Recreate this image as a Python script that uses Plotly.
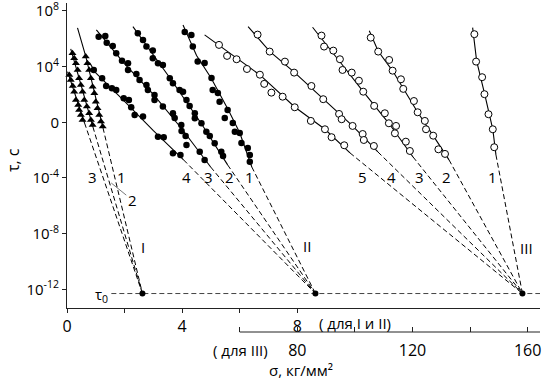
import plotly.graph_objects as go

# ---------------- data (sigma in kg/mm^2, log10 tau in s) ----------------
# Group I (triangles), upper scale
sig_I1 = [0.65, 0.71, 0.77, 0.83, 0.89, 0.95, 1.00, 1.06, 1.12, 1.18, 1.24]
lt_I1 = [4.72, 4.24, 3.76, 3.17, 2.56, 2.09, 1.48, 1.01, 0.53, 0.05, -0.31]
sig_I2 = [0.19, 0.25, 0.31, 0.37, 0.42, 0.48, 0.54, 0.60, 0.69, 0.77, 0.83, 0.89]
lt_I2 = [4.96, 4.60, 4.24, 3.76, 3.17, 2.68, 2.20, 1.61, 1.13, 0.65, 0.17, -0.19]
sig_I3 = [0.08, 0.13, 0.20, 0.25, 0.31, 0.39, 0.42, 0.48, 0.54]
lt_I3 = [3.40, 3.04, 2.60, 2.20, 1.61, 1.25, 0.89, 0.53, 0.17]
fs_I1 = [0.365, 0.60, 0.654, 1.25]
fl_I1 = [6.78, 4.96, 4.72, -0.40]
fs_I2 = [0.13, 0.90]
fl_I2 = [5.27, -0.33]
fs_I3 = [0.02, 0.61]
fl_I3 = [3.64, -0.05]

# Group II (filled circles), upper scale
sig_II1 = [4.09, 4.32, 4.37, 4.54, 4.78, 5.02, 5.06, 5.24, 5.30, 5.58, 5.48, 5.76, 5.83, 6.00, 6.06, 6.28, 6.35, 6.35]
lt_II1 = [6.49, 6.28, 5.44, 4.36, 4.26, 3.19, 2.32, 2.11, 1.48, 0.89, 0.31, -0.05, -0.67, -0.76, -1.48, -1.84, -2.34, -2.83]
sig_II2 = [2.46, 2.64, 2.76, 2.98, 2.98, 3.16, 3.33, 3.57, 3.68, 3.91, 4.03, 4.15, 4.26, 4.44, 4.44, 4.67, 4.84, 4.96, 5.13, 5.36, 5.42]
lt_II2 = [6.40, 5.92, 5.44, 5.15, 4.60, 4.24, 4.12, 3.17, 2.81, 2.32, 2.20, 1.61, 1.18, 0.65, 0.29, -0.07, -0.67, -0.98, -1.50, -2.11, -2.42]
sig_II3 = [1.10, 1.33, 1.38, 1.59, 1.71, 1.91, 2.12, 2.12, 2.41, 2.52, 2.76, 2.81, 3.04, 3.04, 3.33, 3.68, 3.74, 3.97, 3.98, 4.12, 4.15, 4.61, 4.78]
lt_II3 = [6.15, 6.20, 5.72, 5.49, 4.96, 4.43, 4.24, 3.76, 3.47, 3.04, 2.68, 2.32, 1.97, 1.61, 1.13, 0.65, 0.31, -0.19, -0.62, -0.98, -1.63, -2.11, -2.70]
sig_II4 = [0.93, 1.22, 1.36, 1.56, 1.71, 1.97, 2.15, 2.23, 2.35, 2.64, 3.16, 3.36, 3.68, 3.94]
lt_II4 = [3.76, 3.17, 2.61, 2.45, 2.32, 1.73, 1.61, 1.08, 0.53, 0.41, -1.03, -1.07, -2.22, -2.34]
fs_II1 = [4.03, 4.5, 5.0, 5.6, 6.0, 6.42]
fl_II1 = [6.99, 4.8, 3.2, 0.9, -0.75, -3.21]
fs_II2 = [2.29, 3.57, 4.67, 5.58]
fl_II2 = [6.87, 3.2, -0.1, -3.06]
fs_II3 = [1.02, 2.0, 3.0, 4.0, 4.99]
fl_II3 = [6.64, 4.2, 2.0, -0.5, -3.21]
fs_II4 = [0.78, 1.0, 2.0, 3.0, 4.05]
fl_II4 = [4.3, 3.55, 1.5, -0.6, -2.7]

# Group III (open circles), lower scale
sig_III1 = [141.5, 142.1, 144.2, 145.0, 146.4, 147.9, 148.4]
lt_III1 = [6.33, 4.36, 3.24, 2.02, 0.58, -0.50, -1.79]
sig_III2 = [105.5, 108.1, 111.9, 113.1, 116.0, 116.8, 120.5, 121.8, 124.3, 124.7, 127.2, 129.0, 131.3]
lt_III2 = [6.08, 5.08, 4.48, 3.71, 3.09, 2.40, 1.53, 0.72, 0.10, -0.50, -0.96, -1.94, -2.27]
sig_III3 = [88.4, 89.3, 92.5, 94.8, 95.7, 98.9, 101.4, 102.9, 106.7, 110.4, 111.8, 114.3, 113.9, 117.7, 119.1]
lt_III3 = [6.23, 5.44, 5.15, 4.53, 3.76, 3.57, 2.99, 2.20, 1.18, 0.65, -0.07, -0.26, -0.79, -1.39, -2.06]
sig_III4 = [66.2, 70.4, 75.7, 78.9, 84.9, 89.0, 94.5, 95.4, 99.2, 102.7, 103.1, 106.6]
lt_III4 = [6.30, 5.08, 4.36, 3.57, 2.61, 1.66, 0.60, 0.22, -0.26, -0.84, -1.27, -1.70]
sig_III5 = [52.8, 55.6, 58.9, 62.5, 67.0, 68.5, 71.0, 74.9, 79.1, 84.7, 89.6, 91.9, 96.3]
lt_III5 = [5.56, 4.77, 4.53, 3.83, 3.42, 2.76, 2.13, 1.84, 1.08, 0.10, -0.50, -1.07, -1.65]
fs_III1 = [140.9, 142.3, 145.0, 147.9, 149.0]
fl_III1 = [6.8, 4.4, 2.1, -0.5, -2.34]
fs_III2 = [105.0, 108.1, 113.1, 116.8, 121.8, 127.2, 132.7]
fl_III2 = [6.58, 5.1, 3.7, 2.4, 0.72, -0.96, -2.70]
fs_III3 = [85.3, 92.5, 96.5, 102.9, 111.8, 120.2]
fl_III3 = [6.83, 5.0, 3.9, 2.2, -0.07, -2.49]
fs_III4 = [62.9, 70.4, 78.9, 89.0, 99.2, 108.0]
fl_III4 = [6.87, 5.1, 3.6, 1.7, -0.26, -2.13]
fs_III5 = [47.8, 58.9, 67.0, 79.1, 89.6, 98.3]
fl_III5 = [6.28, 4.6, 3.4, 1.1, -0.5, -2.2]

pole_I = 2.62
pole_II = 8.63
pole_III = 158.2
lt_tau0 = -12.3
tau0_line_sig = [1.54, 16.43]

ytick_exp = [8, 4, 0, -4, -8, -12]
ytick_text = ["10<sup>8</sup>", "10<sup>4</sup>", "0", "10<sup>-4</sup>", "10<sup>-8</sup>", "10<sup>-12</sup>"]
x1_ticks = [0, 2, 4, 6, 8]
x1_text = ["0", "", "4", "", "8"]
x2_ticks = [60, 80, 100, 120, 140, 160]
x2_text = ["", "80", "", "120", "", "160"]

# ---------------- figure ----------------
FONT = "Open Sans, DejaVu Sans, sans-serif"
fig = go.Figure()
p = lambda v: [10 ** e for e in v]

def add_series(sig, lt, fs, fl, pole, xa, marker):
    # dashed extrapolation to the pole
    fig.add_trace(go.Scatter(x=[fs[-1], pole], y=p([fl[-1], lt_tau0]), xaxis=xa, yaxis="y",
                             mode="lines", line=dict(color="black", width=1, dash="5px,3px"),
                             hoverinfo="skip", showlegend=False))
    # solid fit line
    fig.add_trace(go.Scatter(x=fs, y=p(fl), xaxis=xa, yaxis="y", mode="lines",
                             line=dict(color="black", width=1.1), hoverinfo="skip", showlegend=False))
    # data points
    fig.add_trace(go.Scatter(x=sig, y=p(lt), xaxis=xa, yaxis="y", mode="markers",
                             marker=marker, showlegend=False, cliponaxis=False))

tri = dict(symbol="triangle-up", size=7, color="black")
dot = dict(symbol="circle", size=6.5, color="black")
ring = dict(symbol="circle", size=7, color="white", line=dict(color="black", width=1))

# tau0 line
fig.add_trace(go.Scatter(x=tau0_line_sig, y=p([lt_tau0, lt_tau0]), mode="lines",
                         line=dict(color="#444", width=1, dash="5px,3px"), showlegend=False))

for s, l, f1, f2 in [(sig_I1, lt_I1, fs_I1, fl_I1), (sig_I2, lt_I2, fs_I2, fl_I2), (sig_I3, lt_I3, fs_I3, fl_I3)]:
    add_series(s, l, f1, f2, pole_I, "x", tri)
for s, l, f1, f2 in [(sig_II1, lt_II1, fs_II1, fl_II1), (sig_II2, lt_II2, fs_II2, fl_II2),
                     (sig_II3, lt_II3, fs_II3, fl_II3), (sig_II4, lt_II4, fs_II4, fl_II4)]:
    add_series(s, l, f1, f2, pole_II, "x", dot)
for s, l, f1, f2 in [(sig_III1, lt_III1, fs_III1, fl_III1), (sig_III2, lt_III2, fs_III2, fl_III2),
                     (sig_III3, lt_III3, fs_III3, fl_III3), (sig_III4, lt_III4, fs_III4, fl_III4),
                     (sig_III5, lt_III5, fs_III5, fl_III5)]:
    add_series(s, l, f1, f2, pole_III, "x2", ring)

# poles
fig.add_trace(go.Scatter(x=[pole_I, pole_II], y=p([lt_tau0, lt_tau0]), mode="markers",
                         marker=dict(size=6, color="black"), showlegend=False, cliponaxis=False))
fig.add_trace(go.Scatter(x=[pole_III], y=p([lt_tau0]), xaxis="x2", yaxis="y", mode="markers",
                         marker=dict(size=6, color="black"), showlegend=False, cliponaxis=False))

ann = []
def lab(x, y, t, size=15, xref="x", yref="y", **kw):
    ann.append(dict(x=x, y=y, xref=xref, yref=yref, text=t, showarrow=False,
                    xanchor="center", yanchor="middle",
                    font=dict(size=size, color="black", family=FONT), **kw))

# curve numbers
for x, t in [(0.897, "3"), (1.885, "1"), (4.146, "4"), (4.932, "3"), (5.628, "2"), (6.348, "1"),
             (10.27, "5"), (11.28, "4"), (12.24, "3"), (13.19, "2"), (14.79, "1")]:
    lab(x, -3.9, t)
ann.append(dict(x=1.537, y=-4.36, xref="x", yref="y", text="2", showarrow=True, arrowhead=0,
                arrowwidth=0.8, arrowcolor="#555", ax=21, ay=17,
                font=dict(size=15, color="black", family=FONT)))
lab(2.637, -8.93, "I")
lab(8.32, -8.88, "II")
lab(15.97, -9.05, "III")
lab(1.19, -12.4, "τ<sub>0</sub>")
# axis texts
lab(-0.114, 0.523, "τ, с", size=16, xref="paper", yref="paper", textangle=-90)
lab(0.495, -0.1155, "σ, кг/мм²", size=15, xref="paper", yref="paper")
lab(0.609, 0.0274, "( для I и II)", size=15, xref="paper", yref="paper")
lab(0.366, -0.0547, "( для III)", size=15, xref="paper", yref="paper")

fig.update_layout(
    width=550, height=384,
    margin=dict(l=67, r=10, t=3, b=52, autoexpand=False),
    paper_bgcolor="white", plot_bgcolor="white",
    font=dict(family=FONT, size=14, color="black"),
    showlegend=False,
    annotations=ann,
    shapes=[dict(type="line", xref="x2", yref="paper", x0=60, x1=164.3, y0=0, y1=0,
                 line=dict(color="#222", width=1))],
    xaxis=dict(range=[0, 16.43], domain=[0, 1], anchor="y", tickvals=x1_ticks, ticktext=x1_text,
               ticks="outside", ticklen=4, tickcolor="#222", showline=True, linecolor="#222",
               linewidth=1, showgrid=False, zeroline=False, tickfont=dict(size=16),
               automargin=False),
    xaxis2=dict(range=[0, 164.3], overlaying="x", anchor="free", position=0, side="bottom",
                tickvals=x2_ticks, ticktext=x2_text, ticks="inside", ticklen=5, tickcolor="#222",
                showline=False, showgrid=False, zeroline=False, tickfont=dict(size=16),
                ticklabelstandoff=7, automargin=False),
    yaxis=dict(type="log", range=[-13.34, 8.57], domain=[0.0729, 1], anchor="x",
               tickvals=p(ytick_exp), ticktext=ytick_text, ticks="outside", ticklen=4,
               tickcolor="#222", showline=True, linecolor="#222", linewidth=1,
               showgrid=False, zeroline=False, tickfont=dict(size=15), automargin=False,
               ticklabeloverflow="allow"),
)

fig.write_html("out.html", config={"displayModeBar": False},
               post_script="document.body.style.margin='0px';document.body.style.padding='0px';")
